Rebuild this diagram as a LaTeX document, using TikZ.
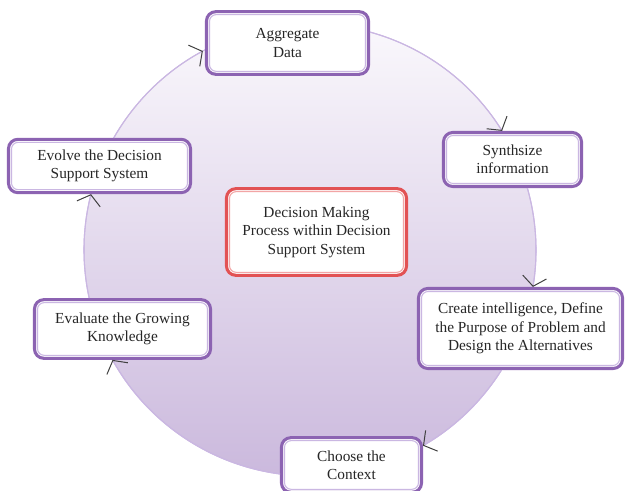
\documentclass[tikz,border=0pt]{standalone}
\usepackage{fontspec}
\setmainfont{Liberation Serif}
\usepackage{tikz}
\usetikzlibrary{positioning,arrows.meta}
\definecolor{boxpurple}{RGB}{140,99,178}
\definecolor{linepurple}{RGB}{202,183,226}
\definecolor{boxred}{RGB}{226,82,84}
\definecolor{linered}{RGB}{242,165,165}
\definecolor{ringtop}{RGB}{250,248,252}
\definecolor{ringbot}{RGB}{203,185,221}
\tikzset{pbox/.style={rectangle,draw=boxpurple,fill=white,line width=2.3pt,rounded corners=7pt,
	 outer sep=0pt,align=center,font=\fontsize{11.5}{13.8}\selectfont,text=black!85},
	 rbox/.style={pbox,draw=boxred},
	 pin/.style={linepurple,line width=0.8pt,rounded corners=5pt},
	 rin/.style={linered,line width=0.8pt,rounded corners=5pt},
	 flow/.style={linepurple,line width=0.8pt,-{Straight Barb[length=7pt,width=18pt,color=black!75,line width=0.75pt]}}
	 }

\begin{document}
\begin{tikzpicture}[x=0.75pt,y=0.75pt] % decision cycle
	\useasboundingbox (0,0) rectangle (626,491);
	\coordinate (c) at (310,241);
	\draw[linepurple,line width=0.8pt,top color=ringtop,bottom color=ringbot] (c) circle[radius=226];
	\node[rbox,minimum width=135pt,minimum height=65pt] (ctr) at (316.5,259) {Decision Making\\Process within Decision\\Support System};
	\node[pbox,minimum width=121.5pt,minimum height=47pt] (agg) at (287.5,448) {Aggregate\\Data};
	\node[pbox,minimum width=103.5pt,minimum height=40.5pt] (syn) at (512.5,331.5) {Synthsize\\information};
	\node[pbox,minimum width=153pt,minimum height=60pt] (cre) at (520.5,162.5) {Create intelligence, Define\\the Purpose of Problem and\\Design the Alternatives};
	\node[pbox,minimum width=105pt,minimum height=41pt] (cho) at (351.5,26) {Choose the\\Context};
	\node[pbox,minimum width=132pt,minimum height=44pt] (eva) at (122.5,162) {Evaluate the Growing\\Knowledge};
	\node[pbox,minimum width=136.5pt,minimum height=40pt] (evo) at (99.5,325) {Evolve the Decision\\Support System};
	\foreach \n in {agg,syn,cre,cho,eva,evo}
		\draw[pin] ([shift={(3,3)}]\n.south west) rectangle ([shift={(-3,-3)}]\n.north east);
	\draw[rin] ([shift={(3,3)}]ctr.south west) rectangle ([shift={(-3,-3)}]ctr.north east);
	% arcs round the ring, clockwise
	\foreach \a/\b in {150.3/118.3,74.6/31.8,15.9/-9.4,-32.1/-60,-97.6/-150.9,192.3/165.7}
		\draw[flow] ([shift={(\a:226)}]c) arc[start angle=\a,end angle=\b,radius=226];
\end{tikzpicture}
\end{document}
